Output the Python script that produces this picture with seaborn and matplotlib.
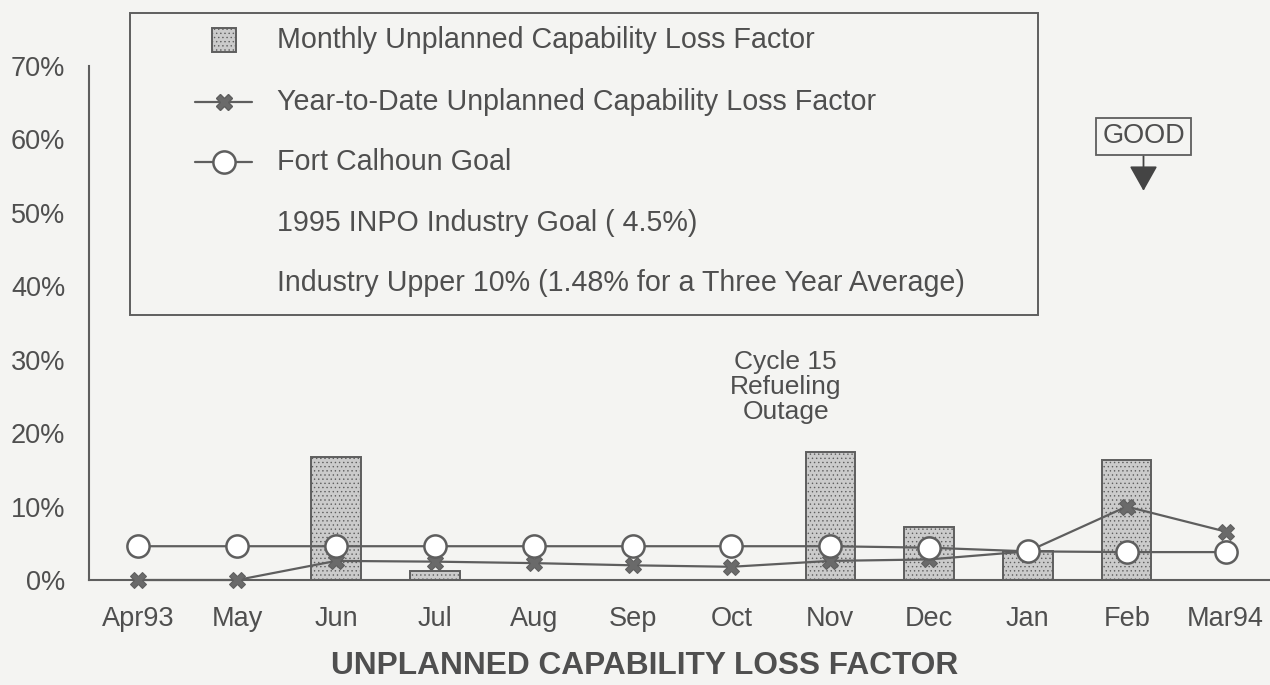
import matplotlib.pyplot as plt
import numpy as np
import pandas as pd
import seaborn as sns
from matplotlib.lines import Line2D
from matplotlib.patches import Rectangle

# data (percent)
months = ["Apr93", "May", "Jun", "Jul", "Aug", "Sep", "Oct", "Nov", "Dec", "Jan", "Feb", "Mar94"]
monthly_loss = [0, 0, 16.8, 1.2, 0, 0, 0, 17.5, 7.2, 4.0, 16.4, 0]
ytd_loss = [0, 0, 2.6, 2.5, 2.3, 2.0, 1.8, 2.6, 2.8, 3.9, 10.0, 6.6]
fcs_goal = [4.6, 4.6, 4.6, 4.6, 4.6, 4.6, 4.6, 4.6, 4.4, 3.9, 3.8, 3.8]
y_ticks = [0, 10, 20, 30, 40, 50, 60, 70]

legend_labels = [
    "Monthly Unplanned Capability Loss Factor",
    "Year-to-Date Unplanned Capability Loss Factor",
    "Fort Calhoun Goal",
    "1995 INPO Industry Goal ( 4.5%)",
    "Industry Upper 10% (1.48% for a Three Year Average)",
]

df = pd.DataFrame(
    {
        "pos": np.arange(len(months)),
        "month": months,
        "monthly": monthly_loss,
        "ytd": ytd_loss,
        "goal": fcs_goal,
    }
)

sns.set_theme(style="white")
plt.rcParams["font.family"] = ["Liberation Sans", "DejaVu Sans"]
plt.rcParams["hatch.linewidth"] = 0.5

ink = "#5e5e5e"
txt = "#4f4f4f"
bar_fc = "#cbcbcb"
bg = "#f4f4f2"

W, H = 1270, 685
fig = plt.figure(figsize=(W / 100, H / 100), dpi=100, facecolor=bg)
ax = fig.add_axes([89 / W, 105 / H, 1181 / W, 514 / H])
ax.set_facecolor("none")

# monthly bars
sns.barplot(
    data=df, x="pos", y="monthly", native_scale=True, color=bar_fc,
    saturation=1, width=0.5, edgecolor=ink, linewidth=1.4, ax=ax, zorder=2,
)
for p in ax.patches:
    p.set_hatch("....")

# year-to-date line
sns.lineplot(
    data=df, x="pos", y="ytd", color=ink, linewidth=1.6, marker="X",
    markersize=12, markeredgecolor=ink, markerfacecolor="#6a6a6a",
    ax=ax, zorder=3,
)
# Fort Calhoun goal
sns.lineplot(
    data=df, x="pos", y="goal", color=ink, linewidth=1.6, marker="o",
    markersize=16, markerfacecolor="white", markeredgecolor=ink,
    markeredgewidth=1.8, ax=ax, zorder=4,
)
for ln in ax.lines:
    ln.set_clip_on(False)

ax.set_xlim(-0.5, 11.45)
ax.set_ylim(0, 70)
ax.set_xlabel("")
ax.set_ylabel("")
ax.set_xticks(df["pos"])
ax.set_xticklabels(months)
ax.set_xticks(np.arange(-0.5, 11, 1), minor=True)
ax.set_yticks(y_ticks)
ax.set_yticklabels([f"{v}%" for v in y_ticks])

ax.tick_params(axis="x", which="major", length=0, pad=19, labelsize=19.5, labelcolor=txt)
ax.tick_params(axis="x", which="minor", length=10, width=1.3, color=ink, direction="out")
ax.tick_params(axis="y", length=11, width=1.3, color=ink, pad=6, labelsize=19.5,
               labelcolor=txt, direction="out")

for side in ["top", "right"]:
    ax.spines[side].set_visible(False)
for side in ["left", "bottom"]:
    ax.spines[side].set_color(ink)
    ax.spines[side].set_linewidth(1.5)

ax.text(6.55, 26.3, "Cycle 15\nRefueling\nOutage", ha="center", va="center",
        fontsize=19, linespacing=1.05, color=txt)

ax.annotate(
    "GOOD", xy=(10.17, 53.0), xytext=(10.17, 60.4), ha="center", va="center",
    fontsize=19.5, color=txt,
    bbox=dict(boxstyle="square,pad=0.22", fc="none", ec=ink, lw=1.3),
    arrowprops=dict(arrowstyle="-|>,head_length=0.8,head_width=0.45",
                    color="#444444", lw=1.3, shrinkA=0, shrinkB=0),
)

fig.text(645 / W, 1 - 666 / H, "UNPLANNED CAPABILITY LOSS FACTOR",
         ha="center", va="center", fontsize=22.8, fontweight="bold", color=txt)


# legend box drawn by hand to match the original layout
def fxy(x, y):
    return x / W, 1 - y / H


fig.add_artist(Rectangle(fxy(130, 315), (1038 - 130) / W, (315 - 13) / H,
                         transform=fig.transFigure, fill=False, ec=ink, lw=1.4))
rows = [40, 102, 162, 223, 283]
fig.add_artist(Rectangle(fxy(212, 52), 24 / W, 24 / H, transform=fig.transFigure,
                         fc=bar_fc, ec=ink, lw=1.4, hatch="...."))
hx = [195 / W, 224 / W, 252 / W]
fig.add_artist(Line2D(hx, [fxy(0, rows[1])[1]] * 3, transform=fig.transFigure,
                      color=ink, lw=1.6, marker="X", markevery=[1], markersize=12,
                      markerfacecolor="#6a6a6a", markeredgecolor=ink))
fig.add_artist(Line2D(hx, [fxy(0, rows[2])[1]] * 3, transform=fig.transFigure,
                      color=ink, lw=1.6, marker="o", markevery=[1], markersize=16,
                      markerfacecolor="white", markeredgecolor=ink, markeredgewidth=1.8))
for label, ry in zip(legend_labels, rows):
    fig.text(277 / W, fxy(0, ry)[1], label, ha="left", va="center",
             fontsize=20.6, color=txt)

fig.savefig("out.png", dpi=100, facecolor=bg)
